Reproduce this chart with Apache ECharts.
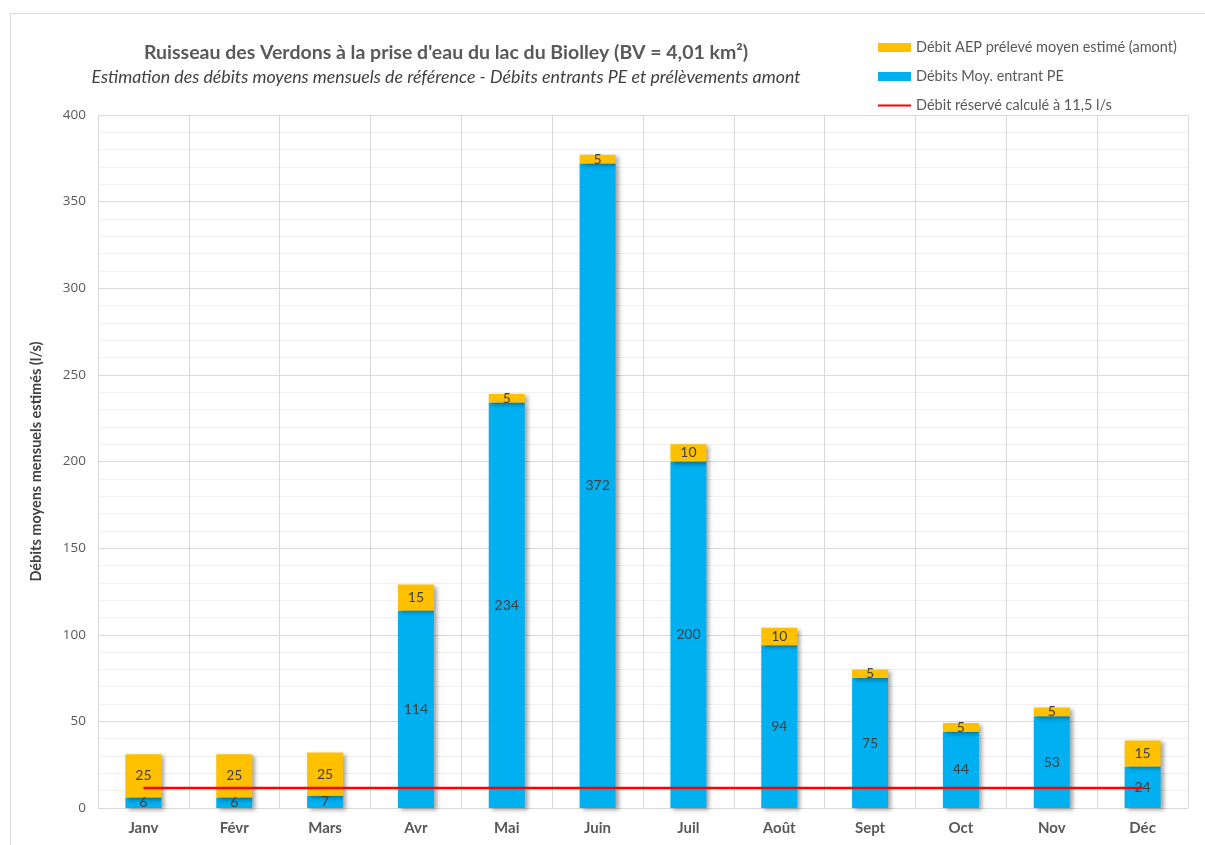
<!DOCTYPE html>
<html><head><meta charset="utf-8">
<script src="https://cdn.jsdelivr.net/npm/echarts@6/dist/echarts.min.js"></script>
<style>html,body{margin:0;padding:0;background:#fff}#c{width:1205px;height:845px}</style>
</head><body><div id="c"></div>
<script>
const months = ['Janv','Févr','Mars','Avr','Mai','Juin','Juil','Août','Sept','Oct','Nov','Déc'];
const debitEntrant = [6,6,7,114,234,372,200,94,75,44,53,24];
const debitAEP = [25,25,25,15,5,5,10,10,5,5,5,15];
const debitReserve = [11.5,11.5,11.5,11.5,11.5,11.5,11.5,11.5,11.5,11.5,11.5,11.5];
const yTicks = {min:0,max:400,interval:50};

const FONT = 'Lato';
const chart = echarts.init(document.getElementById('c'), null, {renderer:'canvas'});
const shadow = {shadowColor:'rgba(0,0,0,0.35)', shadowBlur:4, shadowOffsetX:3, shadowOffsetY:2};
const lbl = {show:true, position:'inside', color:'#404040', fontFamily:FONT, fontSize:14};
chart.setOption({
  animation:false,
  textStyle:{fontFamily:FONT},
  graphic:[{type:'rect', shape:{x:10.5,y:13.5,width:1210,height:850}, style:{fill:'none', stroke:'#d9d9d9', lineWidth:1}, silent:true}],
  title:[
    {text:"Ruisseau des Verdons à la prise d'eau du lac du Biolley (BV = 4,01 km²)", left:441, top:38, textAlign:'center',
     textStyle:{fontFamily:FONT, fontSize:19.5, fontWeight:'bold', color:'#595959'}},
    {text:"Estimation des débits moyens mensuels de référence - Débits entrants PE et prélèvements amont", left:441, top:63, textAlign:'center',
     textStyle:{fontFamily:FONT, fontSize:17.8, fontWeight:'normal', fontStyle:'italic', color:'#404040'}}
  ],
  legend:{orient:'vertical', left:872, top:35, itemGap:14, itemWidth:33, itemHeight:9,
    textStyle:{fontFamily:FONT, fontSize:14.5, color:'#595959'},
    data:[{name:'Débit AEP prélevé moyen estimé (amont)', icon:'rect'},
          {name:'Débits Moy. entrant PE', icon:'rect'},
          {name:'Débit réservé calculé à 11,5 l/s', itemStyle:{opacity:0}}]},
  grid:{left:98, right:17, top:115, bottom:37},
  xAxis:{type:'category', data:months, boundaryGap:true,
    axisLine:{lineStyle:{color:'#d9d9d9'}}, axisTick:{show:false},
    axisLabel:{fontFamily:FONT, fontSize:15, fontWeight:'bold', color:'#595959', margin:13},
    splitLine:{show:true, lineStyle:{color:'#d9d9d9', width:1}}},
  yAxis:{type:'value', min:yTicks.min, max:yTicks.max, interval:yTicks.interval,
    name:'Débits moyens mensuels estimés (l/s)', nameLocation:'middle', nameGap:54, nameRotate:90,
    nameTextStyle:{fontFamily:FONT, fontSize:14.5, fontWeight:'bold', color:'#404040'},
    axisLine:{show:true, lineStyle:{color:'#d9d9d9'}}, axisTick:{show:false},
    axisLabel:{fontFamily:'Open Sans', fontSize:13.5, color:'#595959', margin:12},
    splitLine:{lineStyle:{color:'#d9d9d9'}},
    minorTick:{show:false, splitNumber:5},
    minorSplitLine:{show:true, lineStyle:{color:'#f0f0f0'}}},
  series:[
    {name:'Débits Moy. entrant PE', type:'bar', stack:'s', data:debitEntrant, barWidth:36,
     itemStyle:Object.assign({color:'#00b0f0'}, shadow), label:lbl, z:2},
    {name:'Débit AEP prélevé moyen estimé (amont)', type:'bar', stack:'s', data:debitAEP, barWidth:36,
     itemStyle:Object.assign({color:'#ffc000'}, shadow), label:lbl, z:2},
    {name:'Débit réservé calculé à 11,5 l/s', type:'line', data:debitReserve, symbol:'none',
     lineStyle:{color:'#ff0000', width:2.5}, itemStyle:{color:'#ff0000'}, z:5}
  ]
});
</script></body></html>
